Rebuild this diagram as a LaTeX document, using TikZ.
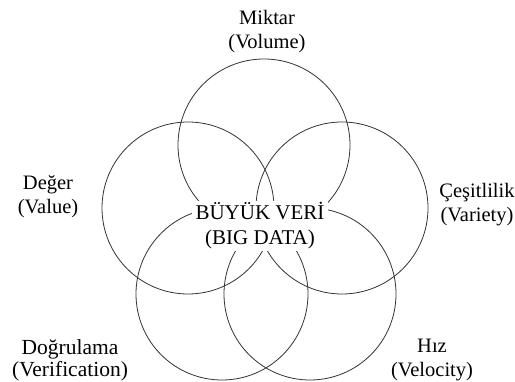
\documentclass[tikz,border=0pt]{standalone}
\usepackage{fontspec}
\setmainfont{Liberation Serif}
\tikzset{
    vtext/.style={font=\fontsize{20.5}{24}\selectfont, align=center, inner sep=1pt},
    ring/.style={draw=black!80, line width=0.8pt}
}
\begin{document}
\begin{tikzpicture}[x=1pt, y=-1pt]
    \useasboundingbox (0,0) rectangle (515,382);
    \draw[ring] (264,145) circle (86pt);
    \draw[ring] (188,208) circle (86pt);
    \draw[ring] (342,208) circle (86pt);
    \draw[ring] (222,294) circle (86pt);
    \draw[ring] (310,294) circle (86pt);
    \node[vtext, font=\fontsize{21}{25}\selectfont, fill=white, inner xsep=4pt, inner ysep=2pt] (bigdata) at (260,226) {BÜYÜK VERİ\\(BIG DATA)};
    \node[vtext] (miktar) at (267,32) {Miktar\\(Volume)};
    \node[vtext] (deger) at (48,197) {Değer\\(Value)};
    \node[vtext] (cesit) at (477,205) {Çeşitlilik\\(Variety)};
    \node[vtext, font=\fontsize{21.5}{22}\selectfont] (dogru) at (70,360) {Doğrulama\\(Verification)};
    \node[vtext] (hiz) at (432,360) {Hız\\(Velocity)};
\end{tikzpicture}
\end{document}
